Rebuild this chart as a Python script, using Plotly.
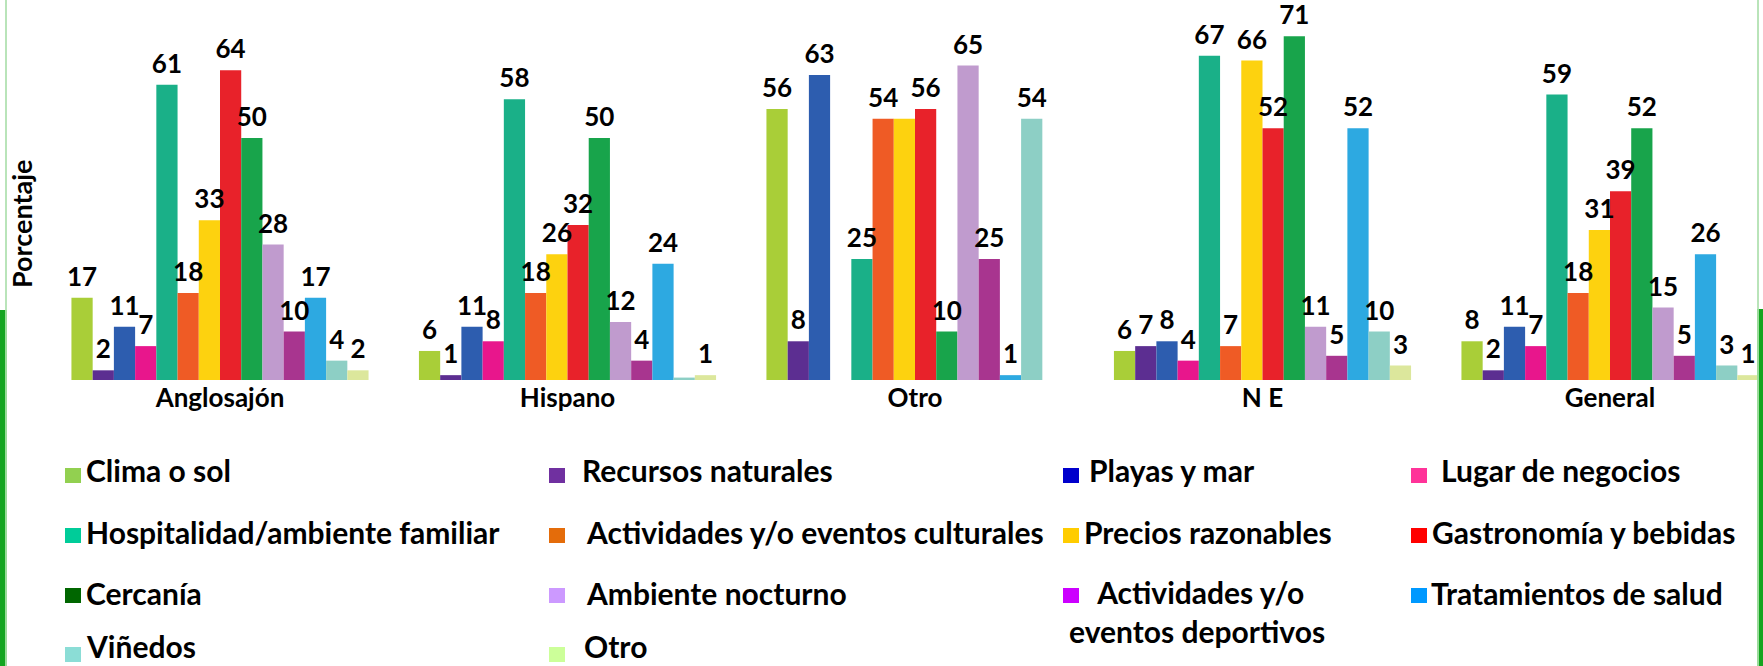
import plotly.graph_objects as go

# ---------------------------------------------------------------------------
# Data
# ---------------------------------------------------------------------------

groups = ["Anglosajón", "Hispano", "Otro", "N E", "General"]

series_names = [
    "Clima o sol",
    "Recursos naturales",
    "Playas y mar",
    "Lugar de negocios",
    "Hospitalidad/ambiente familiar",
    "Actividades y/o eventos culturales",
    "Precios razonables",
    "Gastronomía y bebidas",
    "Cercanía",
    "Ambiente nocturno",
    "Actividades y/o eventos deportivos",
    "Tratamientos de salud",
    "Viñedos",
    "Otro",
]

clima_o_sol = [17, 6, 56, 6, 8]
recursos_naturales = [2, 1, 8, 7, 2]
playas_y_mar = [11, 11, 63, 8, 11]
lugar_de_negocios = [7, 8, None, 4, 7]
hospitalidad = [61, 58, 25, 67, 59]
act_culturales = [18, 18, 54, 7, 18]
precios_razonables = [33, 26, 54, 66, 31]
gastronomia = [64, 32, 56, 52, 39]
cercania = [50, 50, 10, 71, 52]
ambiente_nocturno = [28, 12, 65, 11, 15]
act_deportivas = [10, 4, 25, 5, 5]
tratamientos_salud = [17, 24, 1, 52, 26]
vinedos = [4, 0.5, 54, 10, 3]
otro = [2, 1, None, 3, 1]

series_values = [
    clima_o_sol, recursos_naturales, playas_y_mar, lugar_de_negocios,
    hospitalidad, act_culturales, precios_razonables, gastronomia,
    cercania, ambiente_nocturno, act_deportivas, tratamientos_salud,
    vinedos, otro,
]

# the source shows a single "54" shared by two touching bars in "Otro"
hidden_labels = {("Precios razonables", "Otro")}

# ---------------------------------------------------------------------------
# Styles
# ---------------------------------------------------------------------------

bar_colors = [
    "#A9CE38", "#5C2E91", "#2D5DAF", "#E8168C", "#1AB088", "#EF5B25", "#FDD20F",
    "#E8222A", "#18A44B", "#C09BCE", "#A8358F", "#2DA9E1", "#8DCFC5", "#DCE79C",
]
legend_colors = [
    "#92D050", "#7030A0", "#0000CC", "#FF3399", "#00CC99", "#E46C0A", "#FFCC00",
    "#FF0000", "#006600", "#CC99FF", "#CC00FF", "#0099FF", "#8BDDD6", "#CCFF99",
]
legend_texts = [
    "Clima o sol",
    "Recursos naturales",
    "Playas y mar",
    "Lugar de negocios",
    "Hospitalidad/ambiente familiar",
    "Actividades y/o eventos culturales",
    "Precios razonables",
    "Gastronomía y bebidas",
    "Cercanía",
    "Ambiente nocturno",
    "\u00a0\u00a0\u00a0\u00a0Actividades y/o<br>eventos deportivos",
    "Tratamientos de salud",
    "Viñedos",
    "Otro",
]

FONT = "Lato"
W, H = 1763, 666
ML, MB = 38, 286
PW, PH = W - ML, H - MB
PX_PER_UNIT = 4.84
LABEL_LIFT = 0.6  # value units; the source prints labels a bit above the bars
GROUP_C0, GROUP_STEP = 220, 347.5

label_font = dict(family=FONT, size=26, color="black", weight="bold")


def px(x):
    """Pixel x (from left) to paper coordinate."""
    return (x - ML) / PW


def py(y):
    """Pixel y (from top) to paper coordinate."""
    return (PH - y) / PH


fig = go.Figure()

# bars first ...
for i, (name, vals, color) in enumerate(zip(series_names, series_values, bar_colors)):
    fig.add_trace(
        go.Bar(
            x=groups,
            y=vals,
            name=name,
            offsetgroup=str(i),
            marker=dict(color=color, line=dict(width=0)),
            showlegend=False,
            hoverinfo="x+y+name",
        )
    )

# ... then the value labels on invisible twins, so no bar hides a label
for i, (name, vals) in enumerate(zip(series_names, series_values)):
    labels = [
        str(v) if v is not None and v >= 1 and (name, g) not in hidden_labels else ""
        for v, g in zip(vals, groups)
    ]
    fig.add_trace(
        go.Bar(
            x=groups,
            y=[None if v is None else v + LABEL_LIFT for v in vals],
            offsetgroup=str(i),
            marker=dict(color="rgba(255,255,255,0)", line=dict(width=0)),
            text=labels,
            textposition="outside",
            constraintext="none",
            cliponaxis=False,
            textfont=label_font,
            outsidetextfont=label_font,
            showlegend=False,
            hoverinfo="skip",
        )
    )

# ---------------------------------------------------------------------------
# Hand-placed legend (4 columns, irregular spacing as in the source slide)
# ---------------------------------------------------------------------------

swatch_x = [65, 549, 1063, 1411]
text_x = [
    84, 580, 1087, 1439,
    84, 584, 1082, 1430,
    84, 584, 1067, 1429,
    84, 582,
]
row_text_y = [470, 532, 593, 646]
row_swatch_top = [468, 528, 588, 647]

shapes = []
annotations = []
for i, (label, color) in enumerate(zip(legend_texts, legend_colors)):
    row, col = divmod(i, 4)
    sx = swatch_x[col]
    st = row_swatch_top[row]
    shapes.append(
        dict(
            type="rect", xref="paper", yref="paper",
            x0=px(sx), x1=px(sx + 16), y0=py(st + 15), y1=py(st),
            fillcolor=color, line=dict(width=0),
        )
    )
    ty = row_text_y[row]
    if "<br>" in label:
        ty = ty + 18.5
    annotations.append(
        dict(
            text=label, xref="paper", yref="paper",
            x=px(text_x[i]), y=py(ty), xanchor="left", yanchor="middle",
            align="left", showarrow=False,
            font=dict(family=FONT, size=30, color="black", weight="bold"),
        )
    )

# y-axis title
annotations.append(
    dict(
        text="Porcentaje", xref="paper", yref="paper",
        x=px(21), y=py(224), xanchor="center", yanchor="middle",
        textangle=-90, showarrow=False,
        font=dict(family=FONT, size=27, color="black", weight="bold"),
    )
)

# green slide frame strips at the edges
frame = [
    # (x0, x1, y0, y1, color)
    (5, 7, 0, 310, "#B9E4B9"),
    (0, 5, 310, H, "#14A520"),
    (5, 7, 310, H, "#9ADB9A"),
    (1757, 1759, 0, 309, "#B9E4B9"),
    (1759, W, 309, H, "#14A520"),
    (1757, 1759, 309, H, "#9ADB9A"),
]
for x0, x1, y0, y1, color in frame:
    shapes.append(
        dict(
            type="rect", xref="paper", yref="paper",
            x0=px(x0), x1=px(x1), y0=py(y1), y1=py(y0),
            fillcolor=color, line=dict(width=0), layer="above",
        )
    )

fig.update_layout(
    width=W,
    height=H,
    margin=dict(l=ML, r=0, t=0, b=MB, pad=0),
    paper_bgcolor="white",
    plot_bgcolor="white",
    barmode="group",
    bargap=0.145,
    bargroupgap=0,
    showlegend=False,
    shapes=shapes,
    annotations=annotations,
    font=dict(family=FONT, color="black"),
)
fig.update_xaxes(
    range=[(ML - GROUP_C0) / GROUP_STEP, (W - GROUP_C0) / GROUP_STEP],
    showgrid=False,
    zeroline=False,
    showline=False,
    ticks="",
    tickfont=dict(family=FONT, size=26, color="black", weight="bold"),
)
fig.update_yaxes(
    range=[0, PH / PX_PER_UNIT],
    visible=False,
)

# the page's default body margin would shift the whole figure by 8px
fig.write_html(
    "out.html",
    config={"displayModeBar": False},
    post_script="document.body.style.margin='0';document.body.style.overflow='hidden';",
)
